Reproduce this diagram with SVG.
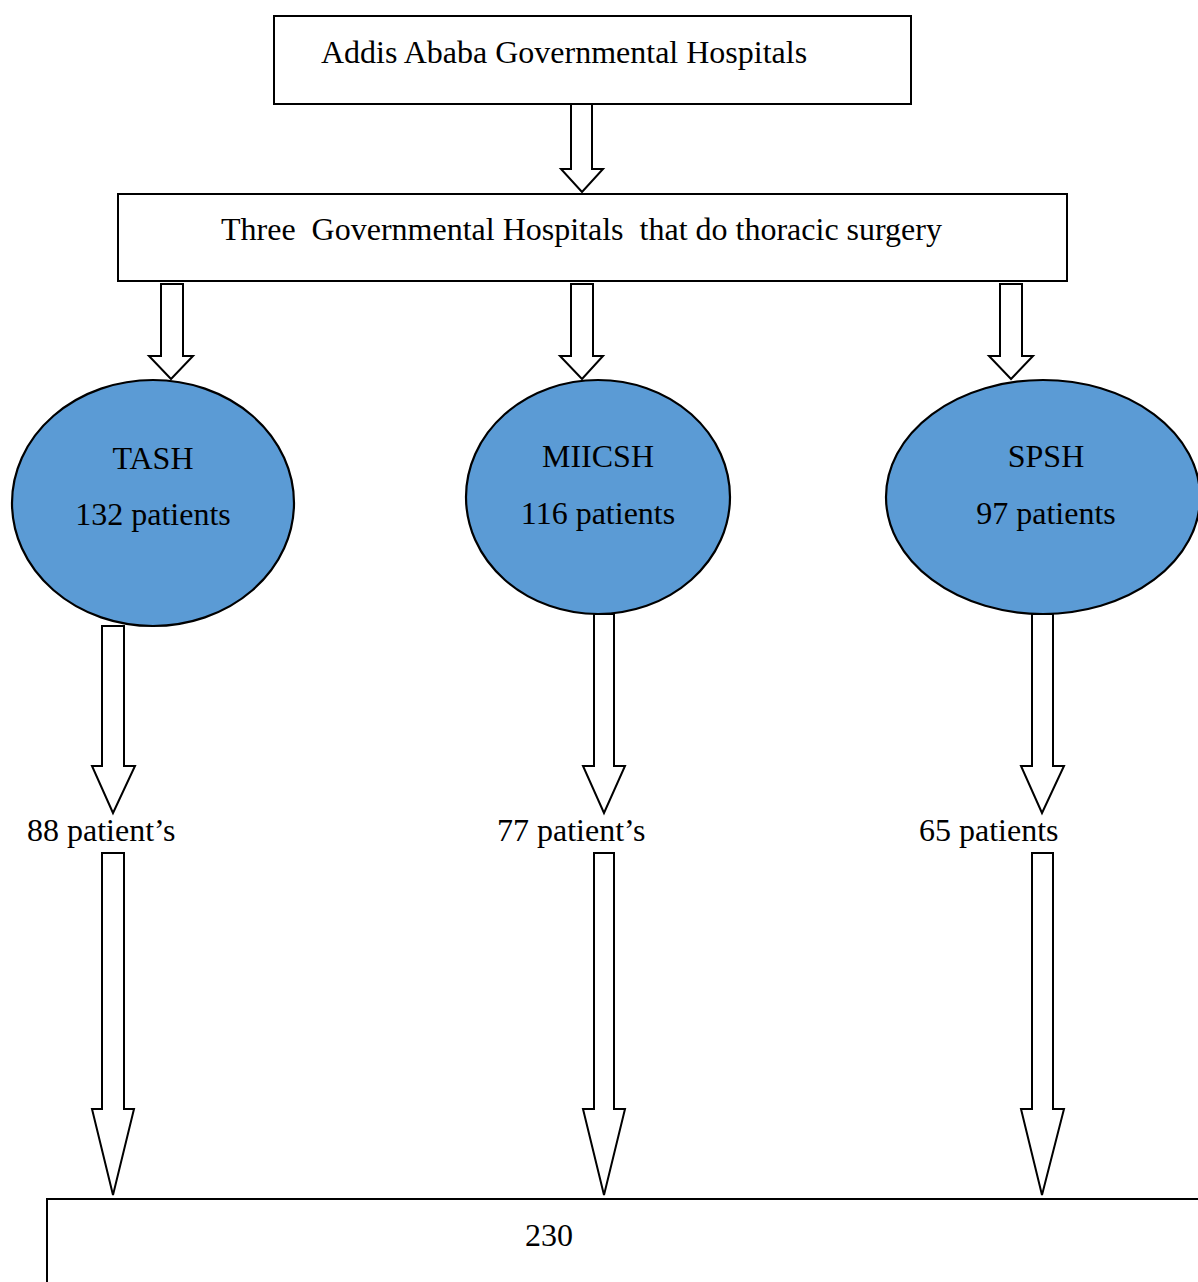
<svg xmlns="http://www.w3.org/2000/svg" width="1198" height="1282" viewBox="0 0 1198 1282">
<style>
.box{fill:#fff;stroke:#000;stroke-width:2}
.ell{fill:#5B9BD5;stroke:#000;stroke-width:2.2}
.arr{fill:#fff;stroke:#000;stroke-width:2;stroke-linejoin:miter}
text{font-family:"Liberation Serif","Times New Roman",serif;font-size:32px;fill:#000}
.c{text-anchor:middle}
</style>
<rect width="1198" height="1282" fill="#fff"/>
<g id="connectors">
<path class="arr" d="M571,104 H592 V169 H603 L582,192 L561,169 H571 Z"/>
<path class="arr" d="M161,284 H183 V356 H193 L171,379 L149,356 H161 Z"/>
<path class="arr" d="M571,284 H593 V356 H603 L582,379 L560,356 H571 Z"/>
<path class="arr" d="M1000,284 H1022 V356 H1033 L1011,379 L989,356 H1000 Z"/>
<path class="arr" d="M102,626 H124 V766 H135 L113,813 L92,766 H102 Z"/>
<path class="arr" d="M594,614 H614 V766 H625 L604,813 L583,766 H594 Z"/>
<path class="arr" d="M1032,614 H1053 V766 H1064 L1042,813 L1021,766 H1032 Z"/>
<path class="arr" d="M102,853 H124 V1109 H134 L113,1195 L92,1109 H102 Z"/>
<path class="arr" d="M594,853 H614 V1109 H625 L604,1195 L583,1109 H594 Z"/>
<path class="arr" d="M1032,853 H1053 V1109 H1064 L1042,1195 L1021,1109 H1032 Z"/>
</g>
<g id="top">
<rect class="box" x="274" y="16" width="637" height="88"/>
<text x="321" y="63">Addis Ababa Governmental Hospitals</text>
</g>
<g id="three">
<rect class="box" x="118" y="194" width="949" height="87"/>
<text x="221" y="240" xml:space="preserve">Three  Governmental Hospitals  that do thoracic surgery</text>
</g>
<g id="tash">
<ellipse class="ell" cx="153" cy="503" rx="141" ry="123"/>
<text class="c" x="153" y="469">TASH</text>
<text class="c" x="153" y="525">132 patients</text>
</g>
<g id="miicsh">
<ellipse class="ell" cx="598" cy="497" rx="132" ry="117"/>
<text class="c" x="598" y="467">MIICSH</text>
<text class="c" x="598" y="524">116 patients</text>
</g>
<g id="spsh">
<ellipse class="ell" cx="1043" cy="497" rx="157" ry="117"/>
<text class="c" x="1046" y="467">SPSH</text>
<text class="c" x="1046" y="524">97 patients</text>
</g>
<g id="label88"><text x="27" y="841">88 patient’s</text></g>
<g id="label77"><text x="497" y="841">77 patient’s</text></g>
<g id="label65"><text x="919" y="841">65 patients</text></g>
<g id="total">
<rect class="box" x="47" y="1199" width="1160" height="100"/>
<text x="525" y="1246">230</text>
</g>
</svg>
